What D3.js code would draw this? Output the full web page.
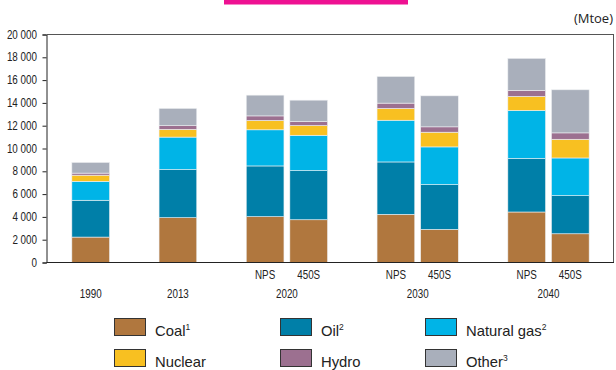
<!DOCTYPE html>
<html>
<head>
<meta charset="utf-8">
<script src="https://cdn.jsdelivr.net/npm/d3@7"></script>
<style>
  html, body { margin: 0; padding: 0; background: #fff; }
  svg { display: block; }
</style>
</head>
<body>
<svg id="chart" width="616" height="370"></svg>
<script>
// World primary energy demand by fuel and scenario (Mtoe)
const barYears = ["1990", "2013", "2020", "2020", "2030", "2030", "2040", "2040"];
const barScenarios = ["", "", "NPS", "450S", "NPS", "450S", "NPS", "450S"];

const fuels = ["Coal", "Oil", "Natural gas", "Nuclear", "Hydro", "Other"];
const fuelNotes = ["1", "2", "2", "", "", "3"];
const fuelColors = ["#b0773e", "#007fa8", "#00b4e7", "#f8c021", "#9c7090", "#a9afbb"];

const coal    = [2230, 3930, 4020, 3750, 4220, 2900, 4430, 2520];
const oil     = [3230, 4220, 4450, 4310, 4600, 3930, 4690, 3340];
const gas     = [1660, 2850, 3170, 3100, 3660, 3310, 4220, 3310];
const nuclear = [ 540,  680,  820,  850, 1030, 1290, 1230, 1640];
const hydro   = [ 180,  320,  400,  350,  470,  470,  530,  560];
const other   = [ 940, 1520, 1820, 1880, 2340, 2720, 2810, 3780];

const yTicks = [0, 2000, 4000, 6000, 8000, 10000, 12000, 14000, 16000, 18000, 20000];
const unitLabel = "(Mtoe)";

const series = [coal, oil, gas, nuclear, hydro, other];

// ---- fonts -------------------------------------------------------------
const NARROW = "'Liberation Sans Narrow', 'Arial Narrow'";
const REGULAR = "'Liberation Sans', Arial, sans-serif";
function fontAvailable(family) {
  const c = document.createElement("canvas").getContext("2d");
  c.font = "40px monospace";
  const base = c.measureText("20 000 NPS 450S").width;
  c.font = "40px " + family + ", monospace";
  return c.measureText("20 000 NPS 450S").width !== base;
}
const hasNarrow = fontAvailable(NARROW);
// Condensed label: use a narrow face if present, otherwise squeeze the regular one
function narrowText(sel, x, y, anchor) {
  sel.attr("font-size", 12).attr("fill", "#222").attr("text-anchor", anchor);
  if (hasNarrow) {
    sel.attr("font-family", NARROW).attr("x", x).attr("y", y);
  } else {
    sel.attr("font-family", REGULAR)
       .attr("transform", `translate(${x},${y}) scale(0.82,1)`);
  }
  return sel;
}

// ---- layout -------------------------------------------------------------
const svg = d3.select("#chart");
const plot = { left: 47, right: 614, top: 34.5, bottom: 262.5 };

// slot index per bar: scenarios of one year sit side by side, years separated by a gap
const slots = [];
barYears.forEach((yr, i) => {
  if (i === 0) slots.push(0);
  else slots.push(slots[i - 1] + (yr === barYears[i - 1] ? 1 : 2));
});

const x = d3.scaleBand()
  .domain(d3.range(d3.max(slots) + 1))
  .range([plot.left, plot.right])
  .paddingInner(0.135)
  .paddingOuter(0.57);

const y = d3.scaleLinear()
  .domain([0, d3.max(yTicks)])
  .range([plot.bottom, plot.top]);

// ---- stacked bars -------------------------------------------------------
const table = barYears.map((yr, i) => {
  const row = { i };
  fuels.forEach((f, k) => { row[f] = series[k][i]; });
  return row;
});
const stacked = d3.stack().keys(fuels)(table);

svg.append("g").selectAll("g")
  .data(stacked)
  .join("g")
  .attr("fill", (d, k) => fuelColors[k])
  .selectAll("rect")
  .data(d => d)
  .join("rect")
  .attr("x", d => x(slots[d.data.i]))
  .attr("width", x.bandwidth())
  .attr("y", d => y(d[1]))
  .attr("height", d => y(d[0]) - y(d[1]))
  .attr("stroke", "#eef0f2")
  .attr("stroke-width", 0.6);

// ---- frame and axes -----------------------------------------------------
const frame = svg.append("g").attr("fill", "none");
frame.append("line")
  .attr("x1", plot.left).attr("x2", plot.right)
  .attr("y1", plot.top).attr("y2", plot.top)
  .attr("stroke", "#555").attr("stroke-width", 1);
frame.append("line")
  .attr("x1", plot.right - 0.5).attr("x2", plot.right - 0.5)
  .attr("y1", plot.top).attr("y2", plot.bottom)
  .attr("stroke", "#555").attr("stroke-width", 1);

const yAxis = d3.axisLeft(y)
  .tickValues(yTicks)
  .tickSize(4)
  .tickFormat("");
const gy = svg.append("g")
  .attr("transform", `translate(${plot.left - 0.5},0)`)
  .call(yAxis);
gy.select(".domain").attr("stroke", "#222");
gy.selectAll(".tick line").attr("stroke", "#222");

const fmt = d => d3.format(",")(d).replace(/,/g, " ");
const yLabels = svg.append("g");
yTicks.forEach(v => {
  narrowText(yLabels.append("text"), plot.left - 10, y(v) + 4, "end").text(fmt(v));
});

svg.append("line")
  .attr("x1", plot.left - 0.5).attr("x2", plot.right)
  .attr("y1", plot.bottom).attr("y2", plot.bottom)
  .attr("stroke", "#222").attr("stroke-width", 1);

// ---- category labels ----------------------------------------------------
const labels = svg.append("g");
barScenarios.forEach((s, i) => {
  if (!s) return;
  narrowText(labels.append("text"), x(slots[i]) + x.bandwidth() / 2, 279, "middle").text(s);
});
const years = Array.from(new Set(barYears));
years.forEach(yr => {
  const centers = slots.filter((s, i) => barYears[i] === yr).map(s => x(s) + x.bandwidth() / 2);
  narrowText(labels.append("text"), d3.mean(centers), 297.5, "middle").text(yr);
});

// ---- header -------------------------------------------------------------
svg.append("rect")
  .attr("x", 224).attr("y", 0).attr("width", 184).attr("height", 4.5)
  .attr("fill", "#ee1192");
svg.append("text")
  .attr("x", 613).attr("y", 23)
  .attr("text-anchor", "end")
  .attr("font-family", "'Open Sans', sans-serif")
  .attr("font-size", 13)
  .attr("fill", "#222")
  .text(unitLabel);

// ---- legend -------------------------------------------------------------
const legendCols = [114, 280, 425];
const legendRows = [318, 349];
const legend = svg.append("g");
fuels.forEach((f, k) => {
  const lx = legendCols[k % 3];
  const ly = legendRows[Math.floor(k / 3)];
  legend.append("rect")
    .attr("x", lx + 0.5).attr("y", ly + 0.5)
    .attr("width", 31).attr("height", 17)
    .attr("fill", fuelColors[k])
    .attr("stroke", "#333").attr("stroke-width", 1);
  const t = legend.append("text")
    .attr("x", lx + 41).attr("y", ly + 17.5)
    .attr("font-family", REGULAR)
    .attr("font-size", 14.8)
    .attr("fill", "#222")
    .text(f);
  if (fuelNotes[k]) {
    t.append("tspan")
      .attr("font-size", 8.5)
      .attr("dy", -6)
      .text(fuelNotes[k]);
  }
});
</script>
</body>
</html>
